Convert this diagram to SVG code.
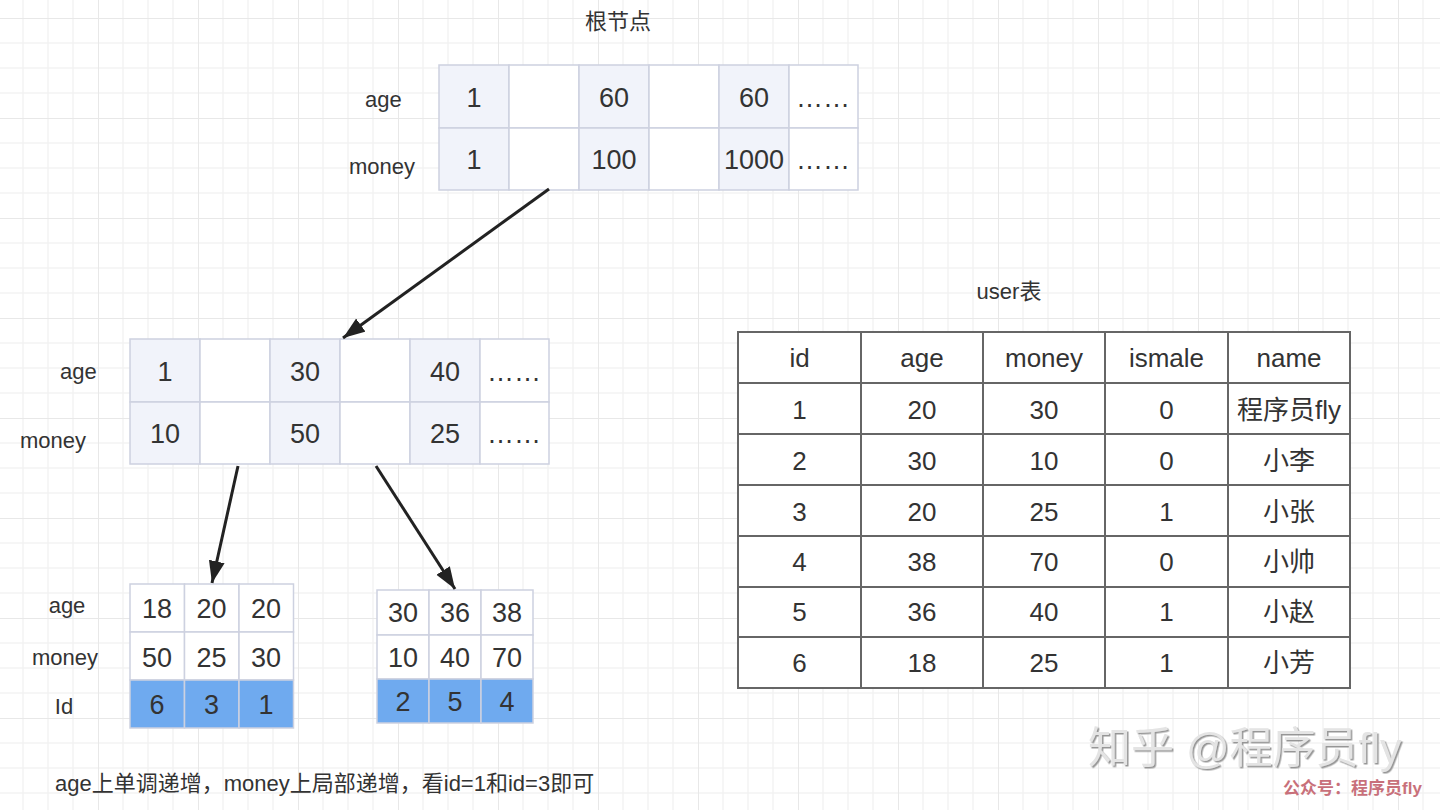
<svg xmlns="http://www.w3.org/2000/svg" width="1440" height="810" viewBox="0 0 1440 810">
<defs>
<pattern id="grid" x="-2" y="18" width="100" height="100" patternUnits="userSpaceOnUse">
<path d="M25 0V100M50 0V100M75 0V100M0 25H100M0 50H100M0 75H100" stroke="#f3f3f3" stroke-width="1.5" fill="none"/>
<path d="M0 0V100M0 0H100" stroke="#e8e8e8" stroke-width="2" fill="none"/>
</pattern>
<marker id="ah" markerUnits="userSpaceOnUse" markerWidth="24" markerHeight="18" refX="22" refY="8" orient="auto">
<path d="M0 0L22 8L0 16Z" fill="#222"/>
</marker>
<filter id="emb" x="-5%" y="-20%" width="110%" height="140%">
<feDropShadow dx="1.5" dy="1.5" stdDeviation="0.6" flood-color="#8a8a8a" flood-opacity="0.9"/>
</filter>
</defs>
<style>
text{font-family:"Liberation Sans","Noto Sans CJK SC",sans-serif;fill:#333}
.lbl{font-size:22px}
.v{font-size:27px;text-anchor:middle}
.t{font-size:26px;text-anchor:middle}
.ca{fill:#f1f3fa;stroke:#cdd1e0;stroke-width:1.5}
.cb{fill:#ffffff;stroke:#cdd1e0;stroke-width:1.5}
.cc{fill:#6faaef;stroke:#cdd1e0;stroke-width:1.5}
.tb{fill:#fff;stroke:#666;stroke-width:2}
.tl{stroke:#666;stroke-width:2}
.conn{stroke:#222;stroke-width:3;fill:none;marker-end:url(#ah)}
</style>
<rect width="1440" height="810" fill="#fff"/>
<rect width="1440" height="810" fill="url(#grid)"/>

<text class="lbl" x="618" y="29" text-anchor="middle">根节点</text>

<g id="root">
<rect class="ca" x="439" y="65" width="70" height="63"/>
<rect class="cb" x="509" y="65" width="70" height="63"/>
<rect class="ca" x="579" y="65" width="70" height="63"/>
<rect class="cb" x="649" y="65" width="70" height="63"/>
<rect class="ca" x="719" y="65" width="70" height="63"/>
<rect class="cb" x="789" y="65" width="69" height="63"/>
<rect class="ca" x="439" y="128" width="70" height="62"/>
<rect class="cb" x="509" y="128" width="70" height="62"/>
<rect class="ca" x="579" y="128" width="70" height="62"/>
<rect class="cb" x="649" y="128" width="70" height="62"/>
<rect class="ca" x="719" y="128" width="70" height="62"/>
<rect class="cb" x="789" y="128" width="69" height="62"/>
<text class="lbl" x="365" y="107">age</text>
<text class="lbl" x="349" y="174">money</text>
<text class="v" x="474" y="107">1</text>
<text class="v" x="614" y="107">60</text>
<text class="v" x="754" y="107">60</text>
<text class="v" x="823" y="107">……</text>
<text class="v" x="474" y="169">1</text>
<text class="v" x="614" y="169">100</text>
<text class="v" x="754" y="169">1000</text>
<text class="v" x="823" y="169">……</text>
</g>

<g id="mid">
<rect class="ca" x="130" y="339" width="70" height="63"/>
<rect class="cb" x="200" y="339" width="70" height="63"/>
<rect class="ca" x="270" y="339" width="70" height="63"/>
<rect class="cb" x="340" y="339" width="70" height="63"/>
<rect class="ca" x="410" y="339" width="70" height="63"/>
<rect class="cb" x="480" y="339" width="69" height="63"/>
<rect class="ca" x="130" y="402" width="70" height="62"/>
<rect class="cb" x="200" y="402" width="70" height="62"/>
<rect class="ca" x="270" y="402" width="70" height="62"/>
<rect class="cb" x="340" y="402" width="70" height="62"/>
<rect class="ca" x="410" y="402" width="70" height="62"/>
<rect class="cb" x="480" y="402" width="69" height="62"/>
<text class="lbl" x="60" y="379">age</text>
<text class="lbl" x="20" y="448">money</text>
<text class="v" x="165" y="381">1</text>
<text class="v" x="305" y="381">30</text>
<text class="v" x="445" y="381">40</text>
<text class="v" x="514" y="381">……</text>
<text class="v" x="165" y="443">10</text>
<text class="v" x="305" y="443">50</text>
<text class="v" x="445" y="443">25</text>
<text class="v" x="514" y="443">……</text>
</g>

<g id="leaf1">
<rect class="cb" x="130" y="584" width="54.5" height="48"/>
<rect class="cb" x="184.5" y="584" width="54.5" height="48"/>
<rect class="cb" x="239" y="584" width="54.5" height="48"/>
<rect class="cb" x="130" y="632" width="54.5" height="48"/>
<rect class="cb" x="184.5" y="632" width="54.5" height="48"/>
<rect class="cb" x="239" y="632" width="54.5" height="48"/>
<rect class="cc" x="130" y="680" width="54.5" height="48"/>
<rect class="cc" x="184.5" y="680" width="54.5" height="48"/>
<rect class="cc" x="239" y="680" width="54.5" height="48"/>
<text class="lbl" x="67" y="613" text-anchor="middle">age</text>
<text class="lbl" x="65" y="665" text-anchor="middle">money</text>
<text class="lbl" x="64" y="714" text-anchor="middle">Id</text>
<text class="v" x="157" y="618">18</text>
<text class="v" x="211.5" y="618">20</text>
<text class="v" x="266" y="618">20</text>
<text class="v" x="157" y="667">50</text>
<text class="v" x="211.5" y="667">25</text>
<text class="v" x="266" y="667">30</text>
<text class="v" x="157" y="714">6</text>
<text class="v" x="211.5" y="714">3</text>
<text class="v" x="266" y="714">1</text>
</g>

<g id="leaf2">
<rect class="cb" x="377" y="590" width="52" height="45"/>
<rect class="cb" x="429" y="590" width="52" height="45"/>
<rect class="cb" x="481" y="590" width="52" height="45"/>
<rect class="cb" x="377" y="635" width="52" height="44"/>
<rect class="cb" x="429" y="635" width="52" height="44"/>
<rect class="cb" x="481" y="635" width="52" height="44"/>
<rect class="cc" x="377" y="679" width="52" height="44"/>
<rect class="cc" x="429" y="679" width="52" height="44"/>
<rect class="cc" x="481" y="679" width="52" height="44"/>
<text class="v" x="403" y="622">30</text>
<text class="v" x="455" y="622">36</text>
<text class="v" x="507" y="622">38</text>
<text class="v" x="403" y="667">10</text>
<text class="v" x="455" y="667">40</text>
<text class="v" x="507" y="667">70</text>
<text class="v" x="403" y="711">2</text>
<text class="v" x="455" y="711">5</text>
<text class="v" x="507" y="711">4</text>
</g>

<g id="connectors">
<line class="conn" x1="549" y1="189" x2="343" y2="338"/>
<line class="conn" x1="238" y1="466" x2="212" y2="583"/>
<line class="conn" x1="376" y1="466" x2="455" y2="589"/>
</g>

<text class="lbl" x="1009" y="299" text-anchor="middle">user表</text>

<g id="user-table">
<rect class="tb" x="738" y="332" width="612" height="356"/>
<line class="tl" x1="861" y1="332" x2="861" y2="688"/>
<line class="tl" x1="983" y1="332" x2="983" y2="688"/>
<line class="tl" x1="1105" y1="332" x2="1105" y2="688"/>
<line class="tl" x1="1228" y1="332" x2="1228" y2="688"/>
<line class="tl" x1="738" y1="383" x2="1350" y2="383"/>
<line class="tl" x1="738" y1="434" x2="1350" y2="434"/>
<line class="tl" x1="738" y1="485" x2="1350" y2="485"/>
<line class="tl" x1="738" y1="536" x2="1350" y2="536"/>
<line class="tl" x1="738" y1="587" x2="1350" y2="587"/>
<line class="tl" x1="738" y1="637" x2="1350" y2="637"/>
<text class="t" x="799.5" y="367">id</text>
<text class="t" x="922" y="367">age</text>
<text class="t" x="1044" y="367">money</text>
<text class="t" x="1166.5" y="367">ismale</text>
<text class="t" x="1289" y="367">name</text>
<text class="t" x="799.5" y="419">1</text>
<text class="t" x="922" y="419">20</text>
<text class="t" x="1044" y="419">30</text>
<text class="t" x="1166.5" y="419">0</text>
<text class="t" x="1289" y="419">程序员fly</text>
<text class="t" x="799.5" y="470">2</text>
<text class="t" x="922" y="470">30</text>
<text class="t" x="1044" y="470">10</text>
<text class="t" x="1166.5" y="470">0</text>
<text class="t" x="1289" y="470">小李</text>
<text class="t" x="799.5" y="521">3</text>
<text class="t" x="922" y="521">20</text>
<text class="t" x="1044" y="521">25</text>
<text class="t" x="1166.5" y="521">1</text>
<text class="t" x="1289" y="521">小张</text>
<text class="t" x="799.5" y="571">4</text>
<text class="t" x="922" y="571">38</text>
<text class="t" x="1044" y="571">70</text>
<text class="t" x="1166.5" y="571">0</text>
<text class="t" x="1289" y="571">小帅</text>
<text class="t" x="799.5" y="621">5</text>
<text class="t" x="922" y="621">36</text>
<text class="t" x="1044" y="621">40</text>
<text class="t" x="1166.5" y="621">1</text>
<text class="t" x="1289" y="621">小赵</text>
<text class="t" x="799.5" y="672">6</text>
<text class="t" x="922" y="672">18</text>
<text class="t" x="1044" y="672">25</text>
<text class="t" x="1166.5" y="672">1</text>
<text class="t" x="1289" y="672">小芳</text>
</g>

<text class="lbl" x="55" y="791">age上单调递增，money上局部递增，看id=1和id=3即可</text>

<text x="1088" y="763" style="font-size:43px;fill:#e4e4e4" filter="url(#emb)">知乎 @程序员fly</text>
<text x="1283" y="794" style="font-size:17px;font-weight:bold;fill:#c8707a">公众号：程序员fly</text>
</svg>
